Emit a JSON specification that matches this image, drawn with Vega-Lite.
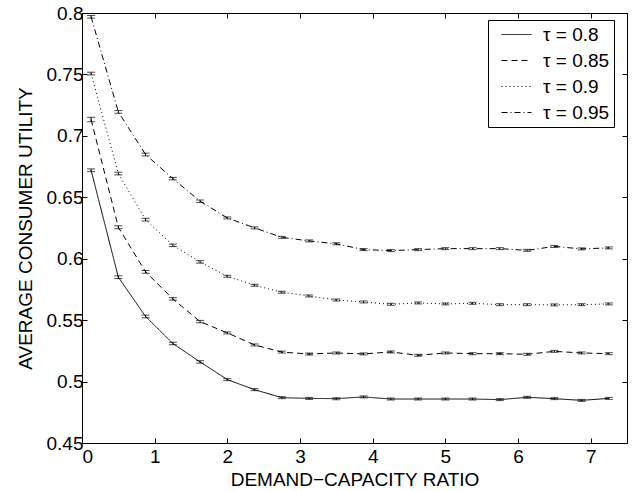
{
  "$schema": "https://vega.github.io/schema/vega-lite/v6.json",
  "width": 545,
  "height": 430,
  "autosize": {"type": "none"},
  "padding": {"left": 82, "top": 13, "right": 12, "bottom": 48},
  "background": "white",
  "data": {"values": [
    {"t": "τ = 0.8", "x": 0.125, "u": 0.672, "e": 0.0011},
    {"t": "τ = 0.8", "x": 0.5, "u": 0.585, "e": 0.0011},
    {"t": "τ = 0.8", "x": 0.875, "u": 0.553, "e": 0.0011},
    {"t": "τ = 0.8", "x": 1.25, "u": 0.531, "e": 0.001},
    {"t": "τ = 0.8", "x": 1.625, "u": 0.516, "e": 0.001},
    {"t": "τ = 0.8", "x": 2.0, "u": 0.5016, "e": 0.0008},
    {"t": "τ = 0.8", "x": 2.375, "u": 0.4934, "e": 0.0008},
    {"t": "τ = 0.8", "x": 2.75, "u": 0.4869, "e": 0.0008},
    {"t": "τ = 0.8", "x": 3.125, "u": 0.4863, "e": 0.0008},
    {"t": "τ = 0.8", "x": 3.5, "u": 0.4861, "e": 0.0008},
    {"t": "τ = 0.8", "x": 3.875, "u": 0.4875, "e": 0.0008},
    {"t": "τ = 0.8", "x": 4.25, "u": 0.4858, "e": 0.0008},
    {"t": "τ = 0.8", "x": 4.625, "u": 0.4858, "e": 0.0008},
    {"t": "τ = 0.8", "x": 5.0, "u": 0.4858, "e": 0.0008},
    {"t": "τ = 0.8", "x": 5.375, "u": 0.4858, "e": 0.0008},
    {"t": "τ = 0.8", "x": 5.75, "u": 0.4853, "e": 0.0008},
    {"t": "τ = 0.8", "x": 6.125, "u": 0.4872, "e": 0.0008},
    {"t": "τ = 0.8", "x": 6.5, "u": 0.4861, "e": 0.0008},
    {"t": "τ = 0.8", "x": 6.875, "u": 0.4847, "e": 0.0008},
    {"t": "τ = 0.8", "x": 7.25, "u": 0.4863, "e": 0.0008},
    {"t": "τ = 0.85", "x": 0.125, "u": 0.7133, "e": 0.0018},
    {"t": "τ = 0.85", "x": 0.5, "u": 0.6256, "e": 0.0012},
    {"t": "τ = 0.85", "x": 0.875, "u": 0.5893, "e": 0.0011},
    {"t": "τ = 0.85", "x": 1.25, "u": 0.5673, "e": 0.001},
    {"t": "τ = 0.85", "x": 1.625, "u": 0.5488, "e": 0.001},
    {"t": "τ = 0.85", "x": 2.0, "u": 0.5396, "e": 0.0008},
    {"t": "τ = 0.85", "x": 2.375, "u": 0.5298, "e": 0.0008},
    {"t": "τ = 0.85", "x": 2.75, "u": 0.524, "e": 0.0008},
    {"t": "τ = 0.85", "x": 3.125, "u": 0.5224, "e": 0.0008},
    {"t": "τ = 0.85", "x": 3.5, "u": 0.5233, "e": 0.0008},
    {"t": "τ = 0.85", "x": 3.875, "u": 0.5225, "e": 0.0008},
    {"t": "τ = 0.85", "x": 4.25, "u": 0.5241, "e": 0.0008},
    {"t": "τ = 0.85", "x": 4.625, "u": 0.5214, "e": 0.0008},
    {"t": "τ = 0.85", "x": 5.0, "u": 0.5233, "e": 0.0008},
    {"t": "τ = 0.85", "x": 5.375, "u": 0.5227, "e": 0.0008},
    {"t": "τ = 0.85", "x": 5.75, "u": 0.5227, "e": 0.0008},
    {"t": "τ = 0.85", "x": 6.125, "u": 0.5222, "e": 0.0008},
    {"t": "τ = 0.85", "x": 6.5, "u": 0.5246, "e": 0.0008},
    {"t": "τ = 0.85", "x": 6.875, "u": 0.5233, "e": 0.0008},
    {"t": "τ = 0.85", "x": 7.25, "u": 0.5227, "e": 0.0008},
    {"t": "τ = 0.9", "x": 0.125, "u": 0.7507, "e": 0.0011},
    {"t": "τ = 0.9", "x": 0.5, "u": 0.6693, "e": 0.0011},
    {"t": "τ = 0.9", "x": 0.875, "u": 0.6318, "e": 0.0011},
    {"t": "τ = 0.9", "x": 1.25, "u": 0.6109, "e": 0.001},
    {"t": "τ = 0.9", "x": 1.625, "u": 0.5974, "e": 0.001},
    {"t": "τ = 0.9", "x": 2.0, "u": 0.5857, "e": 0.0008},
    {"t": "τ = 0.9", "x": 2.375, "u": 0.5784, "e": 0.0008},
    {"t": "τ = 0.9", "x": 2.75, "u": 0.5727, "e": 0.0008},
    {"t": "τ = 0.9", "x": 3.125, "u": 0.5697, "e": 0.0008},
    {"t": "τ = 0.9", "x": 3.5, "u": 0.5664, "e": 0.0008},
    {"t": "τ = 0.9", "x": 3.875, "u": 0.5648, "e": 0.0008},
    {"t": "τ = 0.9", "x": 4.25, "u": 0.5629, "e": 0.0008},
    {"t": "τ = 0.9", "x": 4.625, "u": 0.564, "e": 0.0008},
    {"t": "τ = 0.9", "x": 5.0, "u": 0.5632, "e": 0.0008},
    {"t": "τ = 0.9", "x": 5.375, "u": 0.5637, "e": 0.0008},
    {"t": "τ = 0.9", "x": 5.75, "u": 0.5626, "e": 0.0008},
    {"t": "τ = 0.9", "x": 6.125, "u": 0.5626, "e": 0.0008},
    {"t": "τ = 0.9", "x": 6.5, "u": 0.5624, "e": 0.0008},
    {"t": "τ = 0.9", "x": 6.875, "u": 0.5626, "e": 0.0008},
    {"t": "τ = 0.9", "x": 7.25, "u": 0.5632, "e": 0.0008},
    {"t": "τ = 0.95", "x": 0.125, "u": 0.7969, "e": 0.0011},
    {"t": "τ = 0.95", "x": 0.5, "u": 0.7195, "e": 0.0011},
    {"t": "τ = 0.95", "x": 0.875, "u": 0.6848, "e": 0.0011},
    {"t": "τ = 0.95", "x": 1.25, "u": 0.6652, "e": 0.001},
    {"t": "τ = 0.95", "x": 1.625, "u": 0.6468, "e": 0.001},
    {"t": "τ = 0.95", "x": 2.0, "u": 0.6332, "e": 0.0008},
    {"t": "τ = 0.95", "x": 2.375, "u": 0.6251, "e": 0.0008},
    {"t": "τ = 0.95", "x": 2.75, "u": 0.6174, "e": 0.0008},
    {"t": "τ = 0.95", "x": 3.125, "u": 0.6145, "e": 0.0008},
    {"t": "τ = 0.95", "x": 3.5, "u": 0.6121, "e": 0.0008},
    {"t": "τ = 0.95", "x": 3.875, "u": 0.6074, "e": 0.0008},
    {"t": "τ = 0.95", "x": 4.25, "u": 0.6066, "e": 0.0008},
    {"t": "τ = 0.95", "x": 4.625, "u": 0.6074, "e": 0.0008},
    {"t": "τ = 0.95", "x": 5.0, "u": 0.6082, "e": 0.0008},
    {"t": "τ = 0.95", "x": 5.375, "u": 0.6082, "e": 0.0008},
    {"t": "τ = 0.95", "x": 5.75, "u": 0.6082, "e": 0.0008},
    {"t": "τ = 0.95", "x": 6.125, "u": 0.6068, "e": 0.0008},
    {"t": "τ = 0.95", "x": 6.5, "u": 0.610, "e": 0.0008},
    {"t": "τ = 0.95", "x": 6.875, "u": 0.608, "e": 0.0008},
    {"t": "τ = 0.95", "x": 7.25, "u": 0.6088, "e": 0.0008}
  ]},
  "layer": [
    {
      "layer": [
        {
          "mark": {"type": "line", "color": "black", "strokeWidth": 1, "clip": true},
          "encoding": {
            "x": {"field": "x", "type": "quantitative", "scale": {"domain": [0, 7.5], "nice": false, "zero": false},
                  "axis": {"title": "DEMAND−CAPACITY RATIO", "values": [0, 1, 2, 3, 4, 5, 6, 7], "format": "~g", "titleY": 42, "titleBaseline": "alphabetic", "labelPadding": 9}},
            "y": {"field": "u", "type": "quantitative", "scale": {"domain": [0.45, 0.8], "nice": false, "zero": false},
                  "axis": {"title": "AVERAGE CONSUMER UTILITY", "values": [0.45, 0.5, 0.55, 0.6, 0.65, 0.7, 0.75, 0.8], "format": "~g", "titleX": -51, "titleBaseline": "alphabetic", "labelPadding": 4}},
            "strokeDash": {"field": "t", "type": "nominal",
              "scale": {"domain": ["τ = 0.8", "τ = 0.85", "τ = 0.9", "τ = 0.95"], "range": [[1, 0], [6, 4], [1, 3], [6, 3, 1, 3]]},
              "legend": {"title": null, "orient": "none", "legendX": 406, "legendY": 7}}
          }
        },
        {
          "mark": {"type": "errorbar", "color": "black", "ticks": {"size": 8, "thickness": 1, "color": "black"}},
          "encoding": {
            "x": {"field": "x", "type": "quantitative"},
            "y": {"field": "u", "type": "quantitative", "title": "AVERAGE CONSUMER UTILITY"},
            "yError": {"field": "e"},
            "detail": {"field": "t"}
          }
        }
      ]
    },
    {
      "mark": {"type": "point", "opacity": 0},
      "encoding": {
        "x": {"field": "x", "type": "quantitative", "scale": {"domain": [0, 7.5], "nice": false, "zero": false},
              "axis": {"orient": "top", "labels": false, "title": null, "values": [0, 1, 2, 3, 4, 5, 6, 7]}},
        "y": {"field": "u", "type": "quantitative", "scale": {"domain": [0.45, 0.8], "nice": false, "zero": false},
              "axis": {"orient": "right", "labels": false, "title": null, "values": [0.45, 0.5, 0.55, 0.6, 0.65, 0.7, 0.75, 0.8]}}
      }
    }
  ],
  "resolve": {"scale": {"x": "independent", "y": "independent"}},
  "config": {
    "view": {"stroke": "black", "strokeWidth": 1},
    "axis": {
      "grid": false,
      "domainColor": "black",
      "domainWidth": 1,
      "tickColor": "black",
      "tickWidth": 1,
      "tickSize": -5,
      "labelColor": "black",
      "titleColor": "black",
      "labelFont": "Liberation Sans",
      "titleFont": "Liberation Sans",
      "labelFontSize": 19,
      "titleFontSize": 19,
      "titleFontWeight": "normal"
    },
    "legend": {
      "strokeColor": "black",
      "fillColor": "white",
      "padding": 4,
      "symbolType": "M-1.5,0H1.5",
      "symbolSize": 400,
      "symbolStrokeWidth": 1,
      "symbolStrokeColor": "black",
      "symbolOffset": 14,
      "labelFont": "Liberation Sans",
      "labelFontSize": 19,
      "labelColor": "black",
      "labelOffset": 16,
      "rowPadding": 5
    }
  }
}
